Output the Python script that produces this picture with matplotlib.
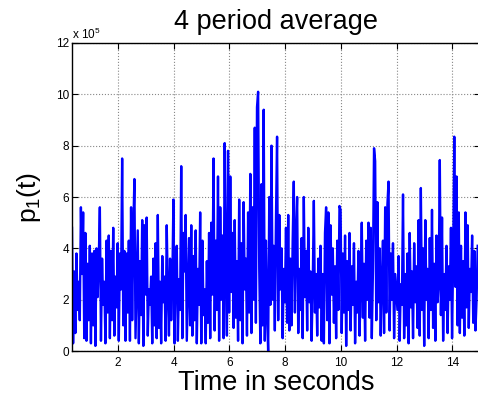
import numpy as np
import matplotlib
matplotlib.use('Agg')
import matplotlib.pyplot as plt

plt.rcParams['font.family'] = ['Liberation Sans', 'DejaVu Sans']
plt.rcParams['mathtext.default'] = 'regular'

# time axis: first sample and sampling step (seconds)
t_start = 0.35
dt = 0.04

# p1(t) in units of 1e5 (25 samples per second)
p1 = [
    4.8, 0.3, 3.1, 0.7, 3.8, 1.6, 2.7, 1.2, 5.6, 3.0, 5.4, 0.5, 4.6, 0.4, 3.4, 1.2, 4.1, 0.3, 3.8, 1.0, 3.9, 0.2, 4.0, 2.1, 3.5,
    5.6, 0.4, 3.6, 1.8, 2.7, 0.3, 4.3, 1.5, 4.5, 0.5, 3.9, 1.2, 4.8, 0.6, 2.9, 1.7, 4.2, 0.4, 3.8, 2.4, 7.5, 1.0, 3.9, 0.4, 3.8,
    1.5, 4.3, 0.4, 5.6, 1.2, 4.7, 6.7, 0.5, 2.7, 4.7, 0.3, 3.5, 1.4, 5.1, 0.2, 4.9, 2.2, 5.2, 0.6, 2.4, 1.8, 2.9, 0.3, 3.6, 1.0,
    4.2, 0.5, 5.3, 0.9, 2.7, 0.3, 3.7, 1.9, 2.9, 0.4, 4.9, 2.3, 0.6, 3.6, 1.2, 2.6, 5.9, 0.3, 3.5, 4.1, 0.4, 2.8, 1.6, 7.2, 0.5,
    4.6, 3.1, 5.3, 0.4, 2.5, 4.4, 1.0, 4.9, 0.6, 3.7, 1.2, 4.7, 0.3, 3.2, 1.8, 5.4, 0.3, 4.3, 1.4, 2.4, 0.3, 3.5, 1.1, 4.6, 0.5,
    5.0, 2.2, 7.5, 0.8, 4.3, 1.6, 6.8, 0.4, 5.6, 2.0, 4.5, 0.5, 8.1, 3.0, 0.6, 7.8, 1.5, 6.8, 2.3, 4.6, 0.9, 5.1, 1.3, 3.5, 0.4,
    5.9, 1.2, 4.2, 0.3, 5.8, 2.4, 3.6, 0.6, 5.4, 1.5, 6.9, 0.7, 5.6, 2.0, 8.7, 1.1, 9.5, 10.1, 3.2, 0.3, 6.5, 1.0, 9.4, 0.4, 4.3,
    1.5, 0.0, 6.0, 1.8, 8.0, 2.0, 4.1, 0.8, 5.1, 8.35, 1.2, 5.3, 2.4, 4.0, 0.5, 3.2, 1.9, 4.8, 1.1, 5.3, 0.8, 3.6, 1.0, 4.3, 6.6,
    1.5, 4.5, 6.0, 0.7, 3.2, 1.6, 4.4, 0.5, 6.0, 2.1, 3.9, 0.8, 4.8, 1.9, 3.1, 0.4, 2.6, 5.85, 1.5, 3.0, 0.6, 3.6, 1.7, 4.1, 0.4,
    3.0, 0.3, 4.6, 5.6, 1.2, 5.4, 0.3, 4.9, 2.2, 4.0, 1.1, 3.3, 0.5, 4.3, 1.6, 5.65, 5.5, 0.7, 3.8, 1.5, 4.5, 0.2, 3.5, 1.6, 4.6,
    0.8, 3.3, 1.8, 4.2, 0.3, 2.7, 1.5, 3.9, 0.6, 2.5, 5.0, 1.3, 3.4, 0.4, 4.3, 2.0, 5.0, 1.3, 4.8, 0.5, 3.1, 7.9, 7.4, 1.2, 5.8,
    1.9, 4.0, 0.6, 2.8, 4.3, 0.7, 5.6, 1.5, 5.7, 6.6, 0.8, 3.8, 2.0, 4.2, 0.5, 3.0, 2.3, 1.6, 3.7, 0.4, 2.6, 1.8, 6.1, 0.5, 3.0,
    1.0, 3.8, 0.3, 4.6, 1.7, 3.1, 0.5, 4.2, 1.9, 3.3, 0.9, 5.1, 0.6, 6.35, 1.6, 4.0, 0.2, 5.1, 2.0, 3.2, 0.5, 4.4, 1.6, 5.5, 0.9,
    3.4, 0.4, 4.5, 1.9, 2.6, 7.44, 1.4, 5.2, 0.4, 3.0, 1.6, 4.1, 0.7, 3.3, 2.0, 4.8, 0.5, 3.7, 8.35, 2.5, 6.8, 1.0, 5.4, 0.7, 4.1,
    1.3, 3.5, 0.6, 5.4, 1.7, 4.9, 0.9, 3.2, 2.3, 4.5, 1.1, 3.9, 0.8, 2.0, 4.1,
]
t = t_start + dt * np.arange(len(p1))

x_ticks = [2, 4, 6, 8, 10, 12, 14]
y_ticks = [0, 2, 4, 6, 8, 10, 12]

fig = plt.figure(figsize=(4.78, 3.98), dpi=100)
ax = fig.add_axes([0.1506, 0.118, 0.854, 0.774])
ax.plot(t, p1, color='#0000ff', linewidth=1.7)

ax.set_xlim(0.35, 15)
ax.set_ylim(0, 12)
ax.set_xticks(x_ticks)
ax.set_yticks(y_ticks)
ax.tick_params(direction='in', top=True, right=True, labelsize=8.5, length=4)
ax.tick_params(axis='y', pad=2)
ax.tick_params(axis='x', pad=4)
ax.grid(True, linestyle=':', color='#888888', linewidth=0.8)
for s in ax.spines.values():
    s.set_linewidth(1.0)

ax.text(0.0, 1.004, 'x 10$^5$', transform=ax.transAxes, fontsize=8.5, ha='left', va='bottom')
ax.set_title('4 period average', fontsize=19.5, pad=10)
ax.set_xlabel('Time in seconds', fontsize=19.5, labelpad=1)
ax.set_ylabel('p$_1$(t)', fontsize=19, labelpad=9)

fig.savefig('out.png', dpi=100)
